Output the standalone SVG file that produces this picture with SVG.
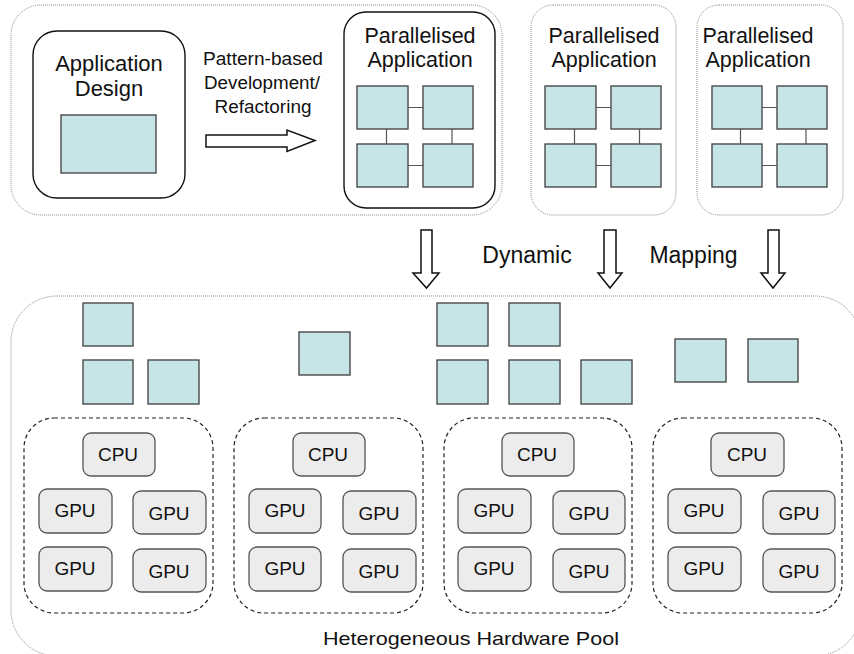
<svg xmlns="http://www.w3.org/2000/svg" width="854" height="654" viewBox="0 0 854 654">
<defs>
<style>
.t{font-family:"Liberation Sans",Arial,sans-serif;fill:#111;text-anchor:middle}
.dot{fill:none;stroke:#8a8a8a;stroke-width:1;stroke-dasharray:1 1}
.solid{fill:#fff;stroke:#111;stroke-width:1.4}
.blk{fill:#c5e5e7;stroke:#4a4a4a;stroke-width:1.4}
.pu{fill:#ececec;stroke:#555;stroke-width:1.3}
.dash{fill:none;stroke:#222;stroke-width:1.2;stroke-dasharray:4 3}
.ln{stroke:#555;stroke-width:1.2;fill:none}
.arr{fill:#fff;stroke:#111;stroke-width:1.5;stroke-linejoin:miter}
</style>
</defs>
<rect width="854" height="654" fill="#fff"/>

<!-- containers -->
<g id="dev-area"><rect class="dot" x="11" y="5" width="491" height="210" rx="30"/></g>
<g id="pool"><rect class="dot" x="11" y="296" width="850" height="360" rx="46"/>
<text class="t" x="471" y="645" font-size="18.5" textLength="296" lengthAdjust="spacingAndGlyphs">Heterogeneous Hardware Pool</text></g>

<g id="app-design">
<rect class="solid" x="33" y="31" width="152" height="167" rx="24"/>
<text class="t" x="109" y="71" font-size="22">Application</text>
<text class="t" x="109" y="96" font-size="22">Design</text>
<rect class="blk" x="61" y="115" width="95" height="58"/>
</g>

<g id="par-app-1">
<rect class="solid" x="344" y="12" width="151" height="196" rx="22"/>
<text class="t" x="420" y="43" font-size="21.5">Parallelised</text>
<text class="t" x="420" y="67" font-size="21.5">Application</text>
<rect class="blk" x="357" y="86" width="51" height="43"/>
<rect class="blk" x="423" y="86" width="50" height="43"/>
<rect class="blk" x="357" y="144" width="51" height="43"/>
<rect class="blk" x="423" y="144" width="50" height="43"/>
</g>

<g id="par-app-2">
<rect class="dot" x="531" y="5" width="145" height="210" rx="22"/>
<text class="t" x="604" y="43" font-size="21.5">Parallelised</text>
<text class="t" x="604" y="67" font-size="21.5">Application</text>
<rect class="blk" x="545" y="86" width="51" height="43"/>
<rect class="blk" x="611" y="86" width="50" height="43"/>
<rect class="blk" x="545" y="144" width="51" height="43"/>
<rect class="blk" x="611" y="144" width="50" height="43"/>
</g>

<g id="par-app-3">
<rect class="dot" x="697" y="5" width="146" height="210" rx="22"/>
<text class="t" x="758" y="43" font-size="21.5">Parallelised</text>
<text class="t" x="758" y="67" font-size="21.5">Application</text>
<rect class="blk" x="712" y="86" width="50" height="43"/>
<rect class="blk" x="777" y="86" width="50" height="43"/>
<rect class="blk" x="712" y="144" width="50" height="43"/>
<rect class="blk" x="777" y="144" width="50" height="43"/>
</g>

<!-- mapped tasks -->
<g id="tasks-1">
<rect class="blk" x="83" y="303" width="50" height="43"/>
<rect class="blk" x="83" y="360" width="50" height="44"/>
<rect class="blk" x="148" y="360" width="51" height="44"/>
</g>
<g id="tasks-2"><rect class="blk" x="299" y="332" width="51" height="43"/></g>
<g id="tasks-3">
<rect class="blk" x="437" y="303" width="51" height="43"/>
<rect class="blk" x="509" y="303" width="51" height="43"/>
<rect class="blk" x="437" y="360" width="51" height="44"/>
<rect class="blk" x="509" y="360" width="51" height="44"/>
<rect class="blk" x="581" y="360" width="51" height="44"/>
</g>
<g id="tasks-4">
<rect class="blk" x="675" y="339" width="51" height="43"/>
<rect class="blk" x="748" y="339" width="50" height="43"/>
</g>

<!-- hardware clusters -->
<g id="node-1">
<rect class="dash" x="24" y="418" width="189" height="195" rx="30"/>
<rect class="pu" x="83" y="433" width="72" height="43" rx="8"/><text class="t" x="118" y="461" font-size="19">CPU</text>
<rect class="pu" x="39" y="489" width="73" height="44" rx="8"/><text class="t" x="75" y="517" font-size="19">GPU</text>
<rect class="pu" x="133" y="491" width="73" height="43" rx="8"/><text class="t" x="169" y="520" font-size="19">GPU</text>
<rect class="pu" x="39" y="547" width="73" height="44" rx="8"/><text class="t" x="75" y="575" font-size="19">GPU</text>
<rect class="pu" x="133" y="549" width="73" height="43" rx="8"/><text class="t" x="169" y="578" font-size="19">GPU</text>
</g>
<g id="node-2">
<rect class="dash" x="234" y="418" width="189" height="195" rx="30"/>
<rect class="pu" x="293" y="433" width="72" height="43" rx="8"/><text class="t" x="328" y="461" font-size="19">CPU</text>
<rect class="pu" x="249" y="489" width="72" height="44" rx="8"/><text class="t" x="285" y="517" font-size="19">GPU</text>
<rect class="pu" x="343" y="491" width="73" height="43" rx="8"/><text class="t" x="379" y="520" font-size="19">GPU</text>
<rect class="pu" x="249" y="547" width="72" height="44" rx="8"/><text class="t" x="285" y="575" font-size="19">GPU</text>
<rect class="pu" x="343" y="549" width="73" height="43" rx="8"/><text class="t" x="379" y="578" font-size="19">GPU</text>
</g>
<g id="node-3">
<rect class="dash" x="444" y="418" width="188" height="195" rx="30"/>
<rect class="pu" x="502" y="433" width="72" height="43" rx="8"/><text class="t" x="537" y="461" font-size="19">CPU</text>
<rect class="pu" x="458" y="489" width="73" height="44" rx="8"/><text class="t" x="494" y="517" font-size="19">GPU</text>
<rect class="pu" x="553" y="491" width="72" height="43" rx="8"/><text class="t" x="589" y="520" font-size="19">GPU</text>
<rect class="pu" x="458" y="547" width="73" height="44" rx="8"/><text class="t" x="494" y="575" font-size="19">GPU</text>
<rect class="pu" x="553" y="549" width="72" height="43" rx="8"/><text class="t" x="589" y="578" font-size="19">GPU</text>
</g>
<g id="node-4">
<rect class="dash" x="653" y="418" width="189" height="195" rx="30"/>
<rect class="pu" x="711" y="433" width="73" height="43" rx="8"/><text class="t" x="747" y="461" font-size="19">CPU</text>
<rect class="pu" x="668" y="489" width="73" height="44" rx="8"/><text class="t" x="704" y="517" font-size="19">GPU</text>
<rect class="pu" x="763" y="491" width="72" height="43" rx="8"/><text class="t" x="799" y="520" font-size="19">GPU</text>
<rect class="pu" x="668" y="547" width="73" height="44" rx="8"/><text class="t" x="704" y="575" font-size="19">GPU</text>
<rect class="pu" x="763" y="549" width="72" height="43" rx="8"/><text class="t" x="799" y="578" font-size="19">GPU</text>
</g>

<!-- connectors -->
<g id="connectors">
<path class="ln" d="M408 107.5H423M408 165.5H423M386.5 129V144M452 129V144"/>
<path class="ln" d="M596 107.5H611M596 165.5H611M574.5 129V144M639.5 129V144"/>
<path class="ln" d="M762 107.5H777M762 165.5H777M740.5 129V144M806 129V144"/>
<polygon class="arr" points="206,135 287,135 287,130 315,140.5 287,151.5 287,147 206,147"/>
<polygon class="arr" points="421,230 432,230 432,273 439,273 426.5,288 413,273 421,273"/>
<polygon class="arr" points="604,230 616,230 616,273 622,273 610,288 598,273 604,273"/>
<polygon class="arr" points="768,230 779,230 779,273 785,273 773,288 761,273 768,273"/>
</g>

<g id="labels">
<text class="t" x="263" y="65" font-size="17.5" textLength="120" lengthAdjust="spacingAndGlyphs">Pattern-based</text>
<text class="t" x="262" y="89" font-size="17.5" textLength="116" lengthAdjust="spacingAndGlyphs">Development/</text>
<text class="t" x="263" y="113" font-size="17.5" textLength="97" lengthAdjust="spacingAndGlyphs">Refactoring</text>
<text class="t" x="527" y="263" font-size="23">Dynamic</text>
<text class="t" x="693.5" y="263" font-size="23">Mapping</text>
</g>
</svg>
